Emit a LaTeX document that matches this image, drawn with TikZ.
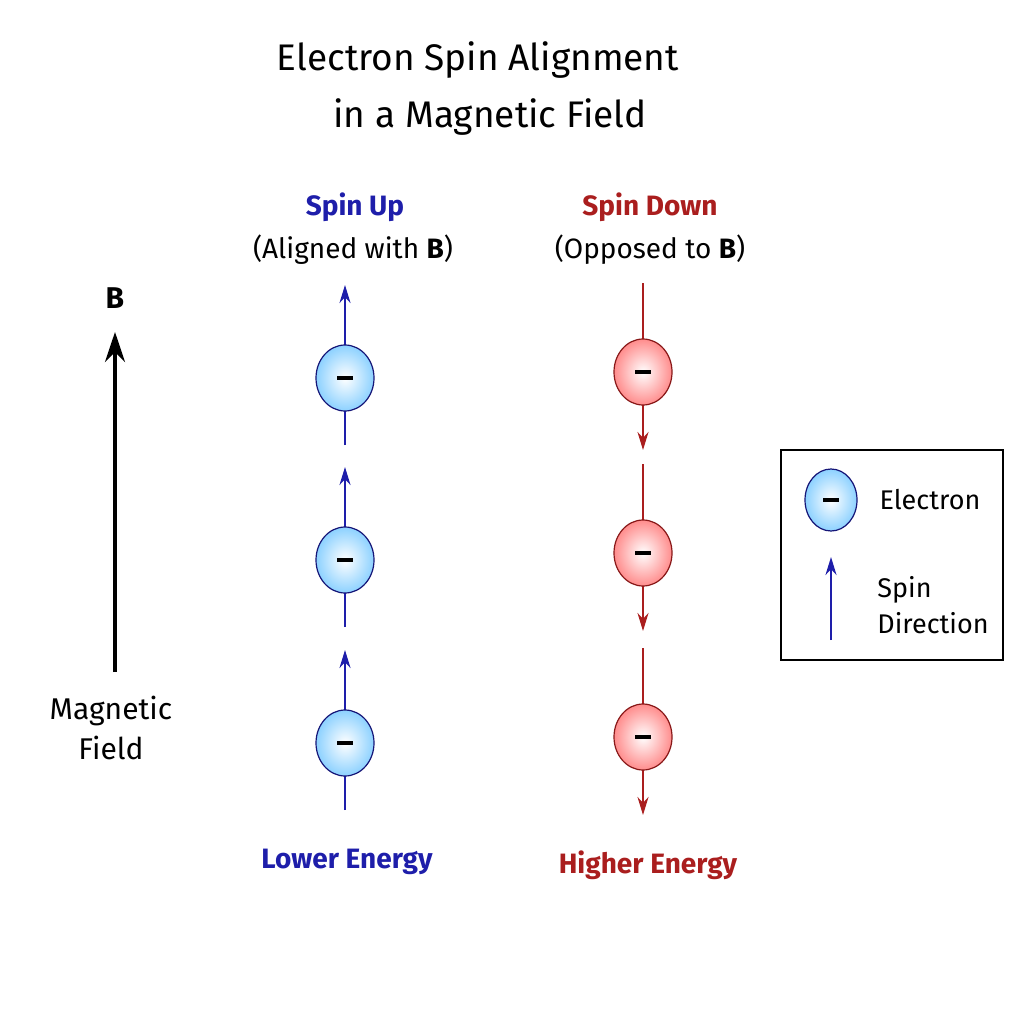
\documentclass[tikz,border=0pt]{standalone}
\usepackage{fontspec}
\setmainfont{Fira Sans}
\usetikzlibrary{arrows.meta,shapes.geometric}
\definecolor{bup}{RGB}{30,30,170}
\definecolor{rdn}{RGB}{170,30,30}
\newcommand{\mns}{\rule[-2pt]{16pt}{4pt}}
\begin{document}
\begin{tikzpicture}[x=1pt,y=-1pt,
 eb/.style={ellipse,minimum width=58pt,minimum height=66pt,draw=bup!70!black,line width=1.2pt,inner color=white,outer color=blue!40!cyan!45,inner sep=0pt},
 er/.style={ellipse,minimum width=58pt,minimum height=66pt,draw=rdn!80!black,line width=1.2pt,inner color=white,outer color=red!45,inner sep=0pt},
 spu/.style={draw=bup,line width=2.2pt,-{Stealth[length=18pt,width=11pt]}},
 spd/.style={draw=rdn,line width=2.2pt,-{Stealth[length=18pt,width=11pt]}},
 lbl/.style={font=\fontsize{28}{32}\selectfont}]
\useasboundingbox[fill=white] (0,0) rectangle (1024,1024);
\node[font=\fontsize{37}{42}\selectfont\mdseries] (t1) at (478,60) {Electron Spin Alignment};
\node[font=\fontsize{37}{42}\selectfont] (t2) at (490,117) {in a Magnetic Field};
\node[lbl,text=bup,font=\fontsize{28}{32}\selectfont\bfseries] (su) at (355,207) {Spin Up};
\node[lbl] (sua) at (353,250) {(Aligned with \textbf{B})};
\node[lbl,text=rdn,font=\fontsize{28}{32}\selectfont\bfseries] (sd) at (650,207) {Spin Down};
\node[lbl] (sda) at (650,250) {(Opposed to \textbf{B})};
\node[font=\bfseries\fontsize{30}{34}\selectfont] (B) at (115,298) {B};
\coordinate (bs) at (115,672); \coordinate (be) at (115,332);
\draw[line width=3.5pt,-{Stealth[length=30pt,width=20pt]}] (bs) -- (be);
\node[lbl,align=center,font=\fontsize{30}{40}\selectfont] (mf) at (111,728) {Magnetic\\Field};
\foreach \i/\y in {1/378,2/560,3/743}{
 \coordinate (ua\i) at (345,\y+67); \coordinate (ub\i) at (345,\y-93);
 \draw[spu] (ua\i) -- (ub\i);
 \node[eb] (u\i) at (345,\y) {\mns};
}
\foreach \i/\y in {1/372,2/553,3/737}{
 \coordinate (da\i) at (643,\y-89); \coordinate (db\i) at (643,\y+78);
 \draw[spd] (da\i) -- (db\i);
 \node[er] (d\i) at (643,\y) {\mns};
}
\node[lbl,text=bup,font=\fontsize{28}{32}\selectfont\bfseries] (le) at (347,862) {Lower Energy};
\node[lbl,text=rdn,font=\fontsize{28}{32}\selectfont\bfseries] (he) at (648,865) {Higher Energy};
\draw[line width=1.8pt] (781,450) rectangle (1003,660);
\node[eb,minimum width=52pt,minimum height=62pt] (le1) at (831,500) {\mns};
\node[font=\fontsize{27}{30}\selectfont] (lt1) at (930,500) {Electron};
\coordinate (la) at (831,640); \coordinate (lb) at (831,557);
\draw[spu] (la) -- (lb);
\node[font=\fontsize{27}{36}\selectfont,align=left] (lt2) at (933,605) {Spin\\Direction};
\end{tikzpicture}
\end{document}
